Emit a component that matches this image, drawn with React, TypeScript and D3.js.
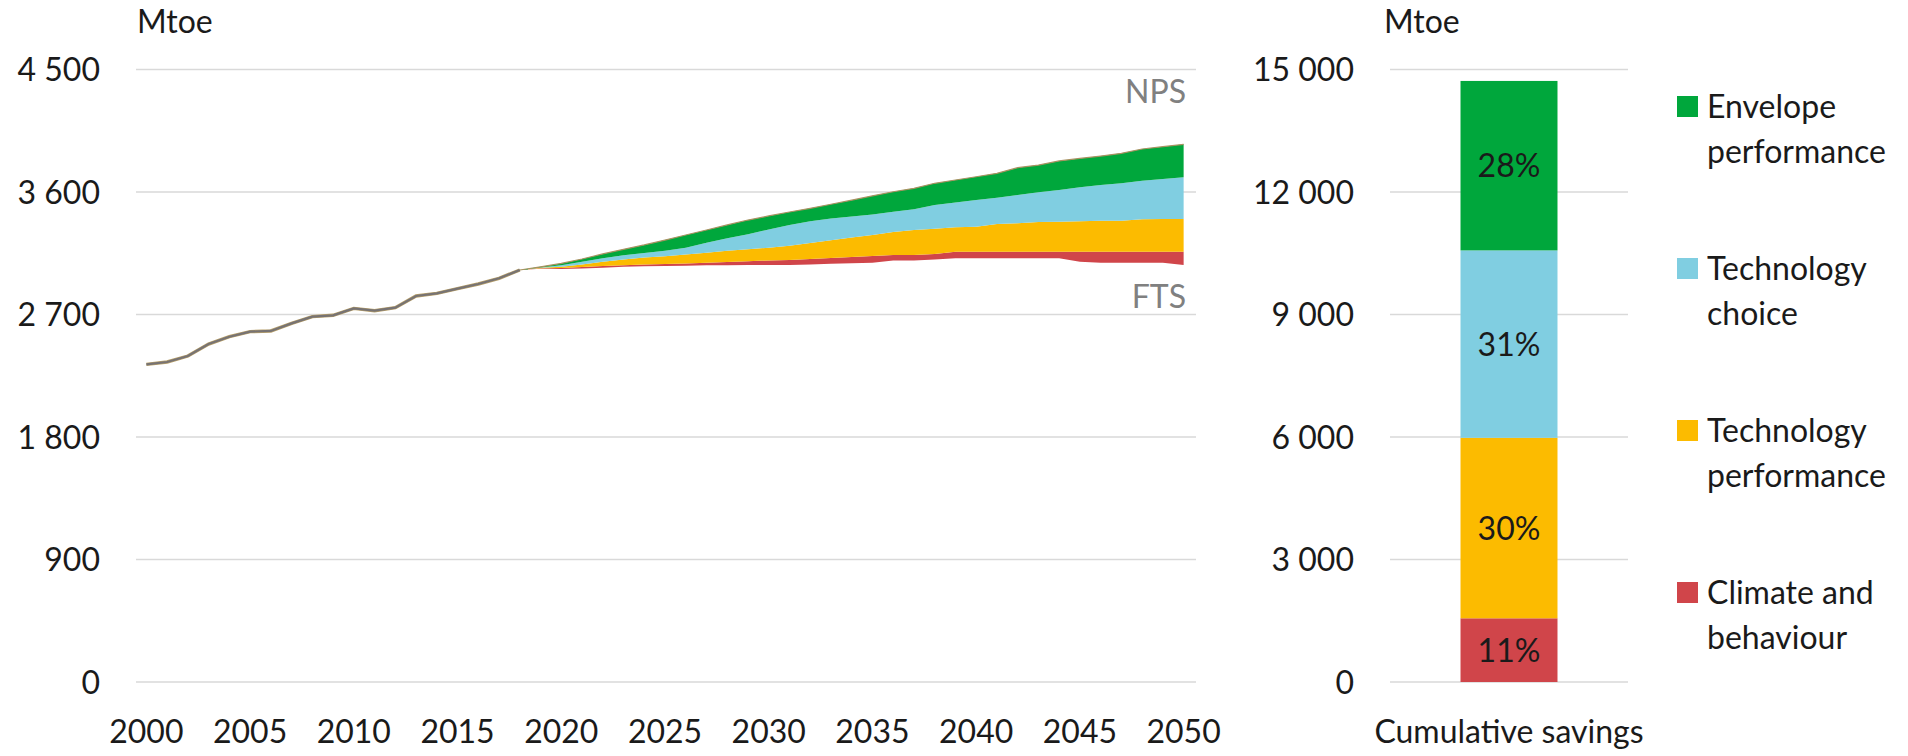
import React from 'react';
import * as d3 from 'd3';

// historical demand 2000-2018, Mtoe
const histYears = d3.range(2000, 2019);
const histValues = [2334, 2351, 2395, 2483, 2537, 2574, 2579, 2635, 2684, 2694, 2745, 2728, 2750, 2836, 2855, 2890, 2924, 2966, 3027];

// projections 2018-2050
const projYears = d3.range(2018, 2051);
const ftsValues = [3027, 3036, 3034, 3038, 3044, 3050, 3054, 3057, 3059, 3061, 3062, 3063, 3064, 3064, 3068, 3072, 3076, 3081, 3096, 3096, 3105, 3113, 3113, 3113, 3113, 3113, 3113, 3088, 3081, 3081, 3081, 3081, 3064];
const climateValues = [0, 4, 8, 11, 12, 12, 14, 14, 15, 20, 24, 29, 33, 36, 40, 44, 47, 49, 41, 41, 40, 48, 48, 48, 48, 48, 48, 73, 80, 80, 80, 80, 97];
const techPerfValues = [0, 3, 8, 19, 32, 43, 50, 57, 66, 73, 82, 88, 93, 105, 117, 129, 142, 154, 169, 184, 185, 180, 184, 204, 209, 219, 221, 224, 228, 228, 238, 241, 241];
const techChoiceValues = [0, 3, 12, 20, 25, 30, 34, 40, 50, 74, 92, 110, 135, 153, 160, 160, 155, 150, 149, 152, 175, 181, 196, 193, 208, 218, 233, 249, 262, 275, 284, 294, 306];
const envelopeValues = [0, 4, 13, 20, 32, 44, 59, 79, 94, 93, 98, 104, 99, 95, 95, 105, 120, 138, 147, 154, 159, 166, 171, 179, 201, 200, 213, 213, 213, 220, 233, 237, 242];

// cumulative savings bar
const savingsKeys = ['climate', 'techPerf', 'techChoice', 'envelope'];
const savingsValues = [1560, 4420, 4590, 4150];
const savingsLabels = ['11%', '30%', '31%', '28%'];

const legendNames = [['Envelope', 'performance'], ['Technology', 'choice'], ['Technology', 'performance'], ['Climate and', 'behaviour']];
const legendKeys = ['envelope', 'techChoice', 'techPerf', 'climate'];

const colors: Record<string, string> = {
  climate: '#d0454a',
  techPerf: '#fcbb00',
  techChoice: '#80cee1',
  envelope: '#00a73c'
};

const leftTicks = [0, 900, 1800, 2700, 3600, 4500];
const rightTicks = [0, 3000, 6000, 9000, 12000, 15000];
const xTickYears = d3.range(2000, 2051, 5);

const fontFamily = 'Lato, "Open Sans", sans-serif';
const fontSize = 32;
const textColor = '#1a1a1a';
const gridColor = '#d9d9d9';

const fmt = (v: number) => d3.format(',')(v).replace(/,/g, ' ');

export default function App() {
  const width = 1908;
  const height = 756;
  const top = 69.5;
  const bottom = 682;

  // left chart
  const x = d3.scalePoint<number>()
    .domain(d3.range(2000, 2051))
    .range([136, 1194])
    .padding(0.5);
  const y = d3.scaleLinear().domain([0, 4500]).range([bottom, top]);

  const rows = projYears.map((yr, i) => ({
    year: yr,
    fts: ftsValues[i],
    climate: climateValues[i],
    techPerf: techPerfValues[i],
    techChoice: techChoiceValues[i],
    envelope: envelopeValues[i]
  }));

  const stack = d3.stack<any>().keys(savingsKeys).offset((series: any) => {
    // start the stack on top of the FTS line
    series.forEach((s: any) => s.forEach((p: any, i: number) => { p[0] += rows[i].fts; p[1] += rows[i].fts; }));
    for (let k = 1; k < series.length; k++) {
      series[k].forEach((p: any, i: number) => {
        const d = series[k - 1][i][1] - p[0];
        p[0] += d; p[1] += d;
      });
    }
  });
  const layers = stack(rows);

  const area = d3.area<any>()
    .x((d: any) => x(d.data.year) as number)
    .y0((d: any) => y(d[0]))
    .y1((d: any) => y(d[1]));

  const histLine = d3.line<number>()
    .x((_, i) => x(histYears[i]) as number)
    .y(d => y(d));

  const topLine = d3.line<any>()
    .x((d: any) => x(d.data.year) as number)
    .y((d: any) => y(d[1]));

  // right chart
  const yR = d3.scaleLinear().domain([0, 15000]).range([bottom, top]);
  const xR = d3.scaleBand().domain(['Cumulative savings']).range([1390, 1628]).paddingInner(0).paddingOuter(0.727);
  const barStack = d3.stack<any>().keys(savingsKeys)([
    Object.fromEntries(savingsKeys.map((k, i) => [k, savingsValues[i]]))
  ]);

  return (
    <svg width={width} height={height} style={{ position: 'absolute', left: 0, top: 0, background: '#fff' }}
      fontFamily={fontFamily} fontSize={fontSize}>
      {/* left gridlines */}
      {leftTicks.map(t => (
        <g key={'lg' + t}>
          <line x1={136} x2={1196} y1={y(t)} y2={y(t)} stroke={gridColor} strokeWidth={1.5} />
          <text x={100} y={y(t) + 11.5} textAnchor="end" fill={textColor}>{fmt(t)}</text>
        </g>
      ))}
      <text x={137} y={33} fill={textColor}>Mtoe</text>
      {xTickYears.map(yr => (
        <text key={'xt' + yr} x={x(yr)} y={743} textAnchor="middle" fill={textColor}>{yr}</text>
      ))}

      {layers.map((layer: any) => (
        <path key={layer.key} d={area(layer) || ''} fill={colors[layer.key]} />
      ))}
      <path d={topLine(layers[layers.length - 1] as any) || ''} fill="none" stroke="#a89160" strokeWidth={1.2} />
      <path d={histLine(histValues) || ''} fill="none" stroke="#b8a06a" strokeWidth={3.4} />
      <path d={histLine(histValues) || ''} fill="none" stroke="#777373" strokeWidth={2.2} />

      <text x={1186} y={103} textAnchor="end" fill="#808080">NPS</text>
      <text x={1186} y={308} textAnchor="end" fill="#808080">FTS</text>

      {/* right chart */}
      {rightTicks.map(t => (
        <g key={'rg' + t}>
          <line x1={1390} x2={1628} y1={yR(t)} y2={yR(t)} stroke={gridColor} strokeWidth={1.5} />
          <text x={1354} y={yR(t) + 11.5} textAnchor="end" fill={textColor}>{fmt(t)}</text>
        </g>
      ))}
      <text x={1384} y={33} fill={textColor}>Mtoe</text>
      {barStack.map((s: any, i: number) => {
        const p = s[0];
        const bx = xR('Cumulative savings') as number;
        return (
          <g key={'b' + s.key}>
            <rect x={bx} width={xR.bandwidth()} y={yR(p[1])} height={yR(p[0]) - yR(p[1])} fill={colors[s.key]} />
            <text x={bx + xR.bandwidth() / 2} y={(yR(p[0]) + yR(p[1])) / 2 + 11.5} textAnchor="middle" fill={textColor}>{savingsLabels[i]}</text>
          </g>
        );
      })}
      <text x={1509} y={743} textAnchor="middle" fill={textColor}>Cumulative savings</text>

      {/* legend */}
      {legendKeys.map((k, i) => {
        const ty = 96 + i * 162;
        return (
          <g key={'lgd' + k} transform={`translate(1677, ${ty})`}>
            <rect x={0} y={0} width={21} height={21} fill={colors[k]} />
            <text x={30} y={22} fill={textColor}>{legendNames[i][0]}</text>
            <text x={30} y={67} fill={textColor}>{legendNames[i][1]}</text>
          </g>
        );
      })}
    </svg>
  );
}
